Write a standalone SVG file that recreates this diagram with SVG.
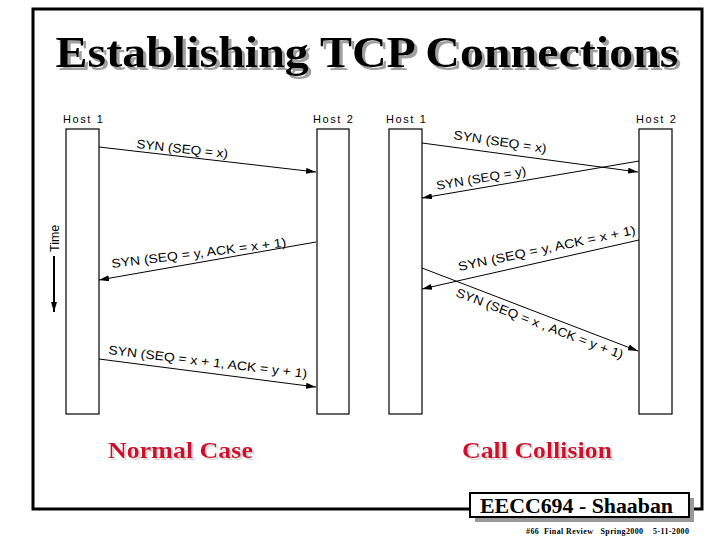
<svg xmlns="http://www.w3.org/2000/svg" width="720" height="540" viewBox="0 0 720 540">
<defs>
<marker id="ah" viewBox="0 0 10 6" refX="10" refY="3" markerWidth="10" markerHeight="6" markerUnits="userSpaceOnUse" orient="auto">
<path d="M0,0 L10,3 L0,6 z" fill="#000"/>
</marker>
<filter id="shTitle" x="-5%" y="-20%" width="110%" height="150%">
<feFlood flood-color="#a0a0a0" result="c"/>
<feComposite in="c" in2="SourceAlpha" operator="in" result="s"/>
<feOffset in="s" dx="3" dy="3" result="o"/>
<feMerge><feMergeNode in="o"/><feMergeNode in="SourceGraphic"/></feMerge>
</filter>
<filter id="shCap" x="-5%" y="-20%" width="110%" height="150%">
<feFlood flood-color="#d8d8d8" result="c"/>
<feComposite in="c" in2="SourceAlpha" operator="in" result="s"/>
<feOffset in="s" dx="2" dy="2" result="o"/>
<feMerge><feMergeNode in="o"/><feMergeNode in="SourceGraphic"/></feMerge>
</filter>
<style>
.host{fill:#fff;stroke:#000;stroke-width:1.2}
.hl{font-family:"Liberation Sans",Arial,sans-serif;font-size:11px;letter-spacing:1.6px;fill:#000}
.lbl{font-family:"Liberation Sans",Arial,sans-serif;font-size:12.5px;fill:#000}
.msg{stroke:#000;stroke-width:1;fill:none;marker-end:url(#ah)}
.cap{font-family:"Liberation Serif","Times New Roman",serif;font-weight:bold;font-size:24px;fill:#d0102c;filter:url(#shCap)}
</style>
</defs>
<rect width="720" height="540" fill="#fff"/>
<rect x="33" y="9" width="669" height="500" fill="none" stroke="#000" stroke-width="3"/>
<g id="title">
<text x="367" y="67" text-anchor="middle" font-family="'Liberation Serif','Times New Roman',serif" font-weight="bold" font-size="45" textLength="623" lengthAdjust="spacingAndGlyphs" fill="#000" filter="url(#shTitle)">Establishing TCP Connections</text>
</g>
<g id="normal-host1">
<text class="hl" x="63" y="123">Host 1</text>
<rect class="host" x="66" y="129" width="33" height="285"/>
</g>
<g id="normal-host2">
<text class="hl" x="313" y="123">Host 2</text>
<rect class="host" x="317" y="129" width="32" height="285"/>
</g>
<g id="collision-host1">
<text class="hl" x="386" y="123">Host 1</text>
<rect class="host" x="389" y="129" width="33" height="285"/>
</g>
<g id="collision-host2">
<text class="hl" x="636" y="123">Host 2</text>
<rect class="host" x="639" y="129" width="33" height="285"/>
</g>
<g id="time">
<line x1="54" y1="256" x2="54" y2="312" stroke="#000" stroke-width="2" marker-end="url(#ah)"/>
<text class="lbl" transform="translate(59,252) rotate(-90)" font-size="12">Time</text>
</g>
<g id="connectors">
<line class="msg" x1="99" y1="147" x2="316" y2="172"/>
<line class="msg" x1="316" y1="242" x2="99" y2="280"/>
<line class="msg" x1="99" y1="359" x2="316" y2="387"/>
<line class="msg" x1="422" y1="143" x2="638" y2="172"/>
<line class="msg" x1="639" y1="161" x2="422" y2="198"/>
<line class="msg" x1="639" y1="240" x2="422" y2="289"/>
<line class="msg" x1="422" y1="268" x2="638" y2="351"/>
</g>
<g id="labels">
<text class="lbl" transform="translate(136,148) rotate(6.3)" textLength="92" lengthAdjust="spacingAndGlyphs">SYN (SEQ = x)</text>
<text class="lbl" transform="translate(112,268) rotate(-7)" textLength="176" lengthAdjust="spacingAndGlyphs">SYN (SEQ = y, ACK = x + 1)</text>
<text class="lbl" transform="translate(108,354) rotate(6.9)" textLength="200" lengthAdjust="spacingAndGlyphs">SYN (SEQ = x + 1, ACK = y + 1)</text>
<text class="lbl" transform="translate(453,139) rotate(8.5)" textLength="94" lengthAdjust="spacingAndGlyphs">SYN (SEQ = x)</text>
<text class="lbl" transform="translate(437,190) rotate(-9.5)" textLength="91" lengthAdjust="spacingAndGlyphs">SYN (SEQ = y)</text>
<text class="lbl" transform="translate(459,271) rotate(-11.8)" textLength="181" lengthAdjust="spacingAndGlyphs">SYN (SEQ = y, ACK = x + 1)</text>
<text class="lbl" transform="translate(455,296) rotate(20.8)" textLength="178" lengthAdjust="spacingAndGlyphs">SYN (SEQ = x , ACK = y + 1)</text>
</g>
<g id="captions">
<text class="cap" x="108" y="458" textLength="145" lengthAdjust="spacingAndGlyphs">Normal Case</text>
<text class="cap" x="462" y="458" textLength="150" lengthAdjust="spacingAndGlyphs">Call Collision</text>
</g>
<g id="footer">
<rect x="475" y="498" width="219" height="24" fill="#999"/>
<rect x="470" y="493" width="219" height="24" fill="#fff" stroke="#000" stroke-width="2"/>
<text x="480" y="513" font-family="'Liberation Serif','Times New Roman',serif" font-weight="bold" font-size="20" textLength="193" lengthAdjust="spacingAndGlyphs" fill="#000">EECC694 - Shaaban</text>
<text x="526" y="534" font-family="'Liberation Serif','Times New Roman',serif" font-weight="bold" font-size="8" textLength="163" lengthAdjust="spacing" fill="#000" xml:space="preserve">#66  Final Review   Spring2000    5-11-2000</text>
</g>
</svg>
